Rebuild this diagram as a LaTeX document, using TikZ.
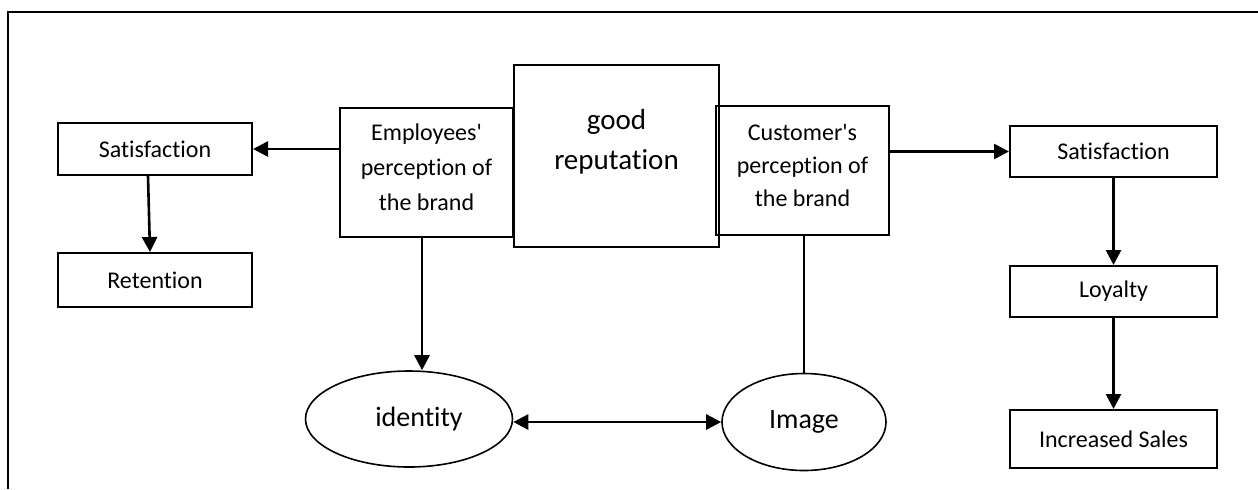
\documentclass[tikz,border=0pt]{standalone}
\usepackage{fontspec}
\setmainfont{Carlito}[Ligatures={TeXOff,CommonOff}]
\usetikzlibrary{shapes.geometric,arrows.meta}
\tikzset{
  boxnode/.style={draw, line width=1pt, rectangle, inner sep=0pt, align=center,
    font=\fontsize{12}{17.5}\selectfont},
  txtnode/.style={inner sep=0pt, align=center},
  ovalnode/.style={draw, line width=0.8pt, ellipse, inner sep=0pt,
    font=\fontsize{14}{20}\selectfont},
  arr/.style={line width=1.3pt, -{Triangle[length=7.5pt,width=7.5pt]}},
  darr/.style={line width=1.3pt, {Triangle[length=7.5pt,width=7.5pt]}-{Triangle[length=7.5pt,width=7.5pt]}},
  plain/.style={line width=1.2pt},
  framestyle/.style={line width=1.1pt}
}
\begin{document}
\begin{tikzpicture}[x=0.5pt,y=-0.5pt]
\useasboundingbox (0,0) rectangle (1258,489);
% frame (top and left only)
\coordinate (fbl) at (8,489);
\coordinate (ftl) at (8,12);
\coordinate (ftr) at (1258,12);
\draw[framestyle] (fbl) -- (ftl) -- (ftr);

\node[boxnode, minimum width=97pt, minimum height=26pt] (satL) at (155,149) {Satisfaction};
\node[boxnode, minimum width=97pt, minimum height=27pt] (ret) at (155,280) {Retention};
\node[boxnode, minimum width=86.5pt, minimum height=64.5pt] (emp) at (426.5,172.5) {};
\node[txtnode, font=\fontsize{12}{17.5}\selectfont] (emptxt) at (426.5,167.5) {Employees'\\perception of\\the brand};
\node[boxnode, minimum width=102.5pt, minimum height=91pt] (good) at (616.5,156) {};
\node[txtnode, font=\fontsize{14.5}{20}\selectfont] (goodtxt) at (616.5,142) {good\\reputation};
\node[boxnode, minimum width=86.5pt, minimum height=64.5pt] (cust) at (802.5,170.5) {};
\node[txtnode, font=\fontsize{12}{16.5}\selectfont] (custtxt) at (802.5,165.5) {Customer's\\perception of\\the brand};
\node[boxnode, minimum width=103.5pt, minimum height=25.5pt] (satR) at (1113.5,151.5) {Satisfaction};
\node[boxnode, minimum width=103.5pt, minimum height=25.5pt] (loy) at (1113.5,291.5) {Loyalty};
\node[boxnode, minimum width=103.5pt, minimum height=29pt] (sales) at (1113.5,439) {Increased Sales};
\node[ovalnode, minimum width=103.5pt, minimum height=48pt] (ident) at (409,419) {\hspace*{10pt}identity};
\node[ovalnode, minimum width=82pt, minimum height=48.5pt] (img) at (804,422) {Image};

% connectors
\draw[arr] (emp.west |- satL.east) -- (satL.east);
\draw[arr] ([xshift=-3.5pt]satL.south) -- ([xshift=-2.5pt]ret.north);
\draw[arr] (cust.east |- satR.west) -- (satR.west);
\draw[arr] (satR.south) -- (loy.north);
\draw[arr] (loy.south) -- (sales.north);
\draw[arr] ([xshift=-2.25pt]emp.south) -- ([xshift=-2.25pt]emp.south |- ident.north);
\draw[plain] (cust.south -| img.north) -- (img.north);
\draw[darr] ([yshift=-1.5pt]ident.east) -- ([yshift=-1.5pt]ident.east -| img.west);
\end{tikzpicture}
\end{document}
